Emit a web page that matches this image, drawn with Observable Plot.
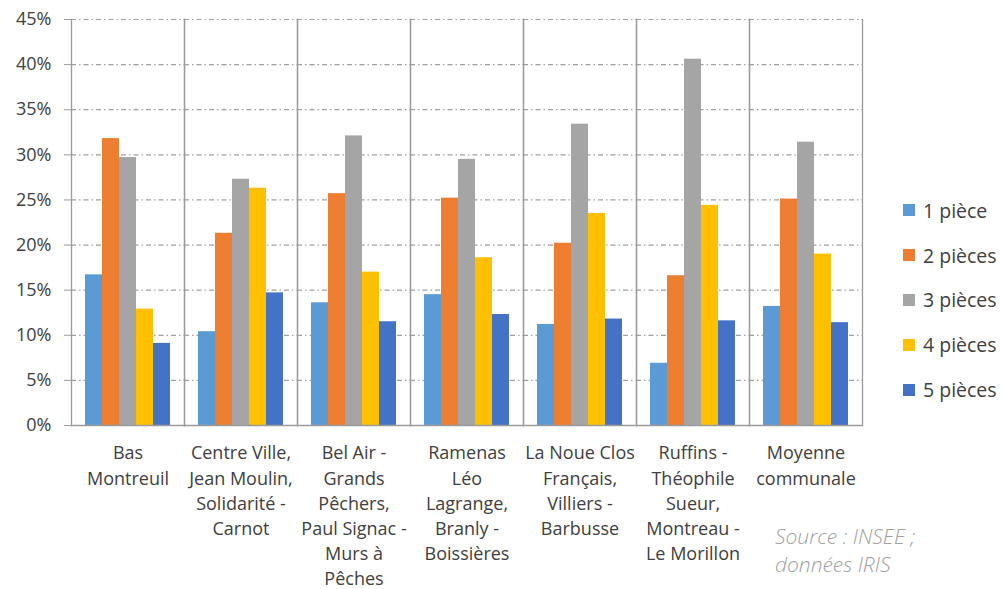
<!DOCTYPE html>
<html>
<head>
<meta charset="utf-8">
<script src="https://cdn.jsdelivr.net/npm/d3@7"></script>
<script src="https://cdn.jsdelivr.net/npm/@observablehq/plot@0.6"></script>
<style>
  body { margin: 0; background: #fff; }
  #wrap { position: relative; width: 1004px; height: 589px; font-family: "Open Sans", sans-serif; }
  #legend { position: absolute; left: 903px; top: 188px; }
  .item { display: flex; align-items: center; height: 44.8px; font-size: 19.5px; color: #404040; }
  .sw { width: 12px; height: 12px; margin-right: 8px; }
  #caption { position: absolute; left: 775px; top: 522px; font-style: italic; font-size: 21px; color: #a0a0a0; line-height: 28px; font-weight: 300; }
</style>
</head>
<body>
<div id="wrap">
  <div id="chart"></div>
  <div id="legend"></div>
  <div id="caption">Source : INSEE ;<br>données IRIS</div>
</div>
<script>
const districts = ["Bas Montreuil", "Centre Ville, Jean Moulin, Solidarité - Carnot", "Bel Air - Grands Pêchers, Paul Signac - Murs à Pêches", "Ramenas Léo Lagrange, Branly - Boissières", "La Noue Clos Français, Villiers - Barbusse", "Ruffins - Théophile Sueur, Montreau - Le Morillon", "Moyenne communale"];
const districtLabels = ["Bas\nMontreuil", "Centre Ville,\nJean Moulin,\nSolidarité -\nCarnot", "Bel Air -\nGrands\nPêchers,\nPaul Signac -\nMurs à\nPêches", "Ramenas\nLéo\nLagrange,\nBranly -\nBoissières", "La Noue Clos\nFrançais,\nVilliers -\nBarbusse", "Ruffins -\nThéophile\nSueur,\nMontreau -\nLe Morillon", "Moyenne\ncommunale"];
const types = ["1 pièce", "2 pièces", "3 pièces", "4 pièces", "5 pièces"];
const colors = ["#5b9bd5", "#ed7d31", "#a5a5a5", "#ffc000", "#4472c4"];
const piece1 = [16.7, 10.4, 13.6, 14.5, 11.2, 6.9, 13.2];
const piece2 = [31.8, 21.3, 25.7, 25.2, 20.2, 16.6, 25.1];
const piece3 = [29.7, 27.3, 32.1, 29.5, 33.4, 40.6, 31.4];
const piece4 = [12.9, 26.3, 17.0, 18.6, 23.5, 24.4, 19.0];
const piece5 = [9.1, 14.7, 11.5, 12.3, 11.8, 11.6, 11.4];
const yTicks = [0, 5, 10, 15, 20, 25, 30, 35, 40, 45];
const gridTicks = [5, 10, 15, 20, 25, 30, 35, 40, 45];

const series = [piece1, piece2, piece3, piece4, piece5];
const data = [];
districts.forEach((d, i) => series.forEach((s, j) => data.push({district: d, type: types[j], value: s[i]})));
const labelOf = new Map(districts.map((d, i) => [d, districtLabels[i]]));

const chart = Plot.plot({
  width: 1004,
  height: 589,
  marginLeft: 71,
  marginRight: 142,
  marginTop: 19,
  marginBottom: 164,
  style: {fontFamily: "Open Sans, sans-serif", color: "#404040", background: "#fff"},
  fx: {domain: districts, padding: 0, label: null},
  x: {domain: types, paddingInner: 0, paddingOuter: 0.75, axis: null},
  y: {domain: [0, 45], label: null},
  color: {domain: types, range: colors},
  marks: [
    Plot.ruleY(gridTicks, {stroke: "#a0a0a0", strokeWidth: 1.2, strokeDasharray: "5,3,1.5,3"}),
    Plot.barY(data, {fx: "district", x: "type", y: "value", fill: "type"}),
    Plot.frame({anchor: "left", stroke: "#9a9a9a", strokeWidth: 1.3}),
    Plot.frame({anchor: "right", stroke: "#9a9a9a", strokeWidth: 1.3}),
    Plot.ruleY([0], {stroke: "#9a9a9a", strokeWidth: 1.3}),
    Plot.axisY(yTicks, {tickSize: 7, tickPadding: 13, stroke: "#9a9a9a", fontSize: 18, fill: "#404040", tickFormat: d => d + "%", label: null}),
    Plot.axisFx({anchor: "bottom", tickSize: 0, tickPadding: 16, fontSize: 18, lineHeight: 1.4, fill: "#404040", tickFormat: d => labelOf.get(d), label: null})
  ]
});
document.getElementById("chart").appendChild(chart);

const legend = document.getElementById("legend");
types.forEach((t, i) => {
  const item = document.createElement("div");
  item.className = "item";
  item.innerHTML = `<span class="sw" style="background:${colors[i]}"></span><span>${t}</span>`;
  legend.appendChild(item);
});
</script>
</body>
</html>
